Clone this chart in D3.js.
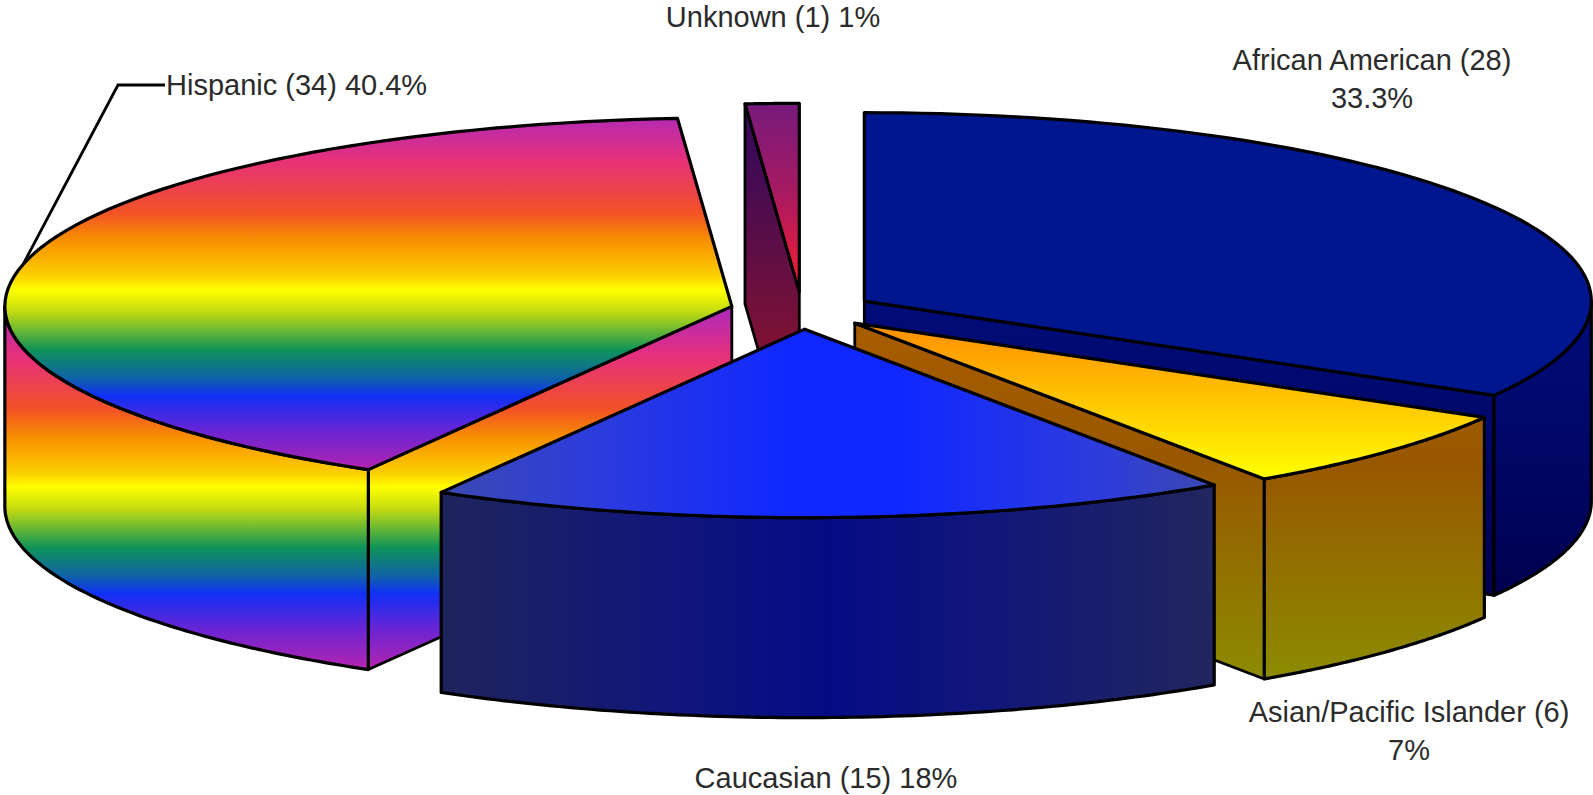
<!DOCTYPE html>
<html>
<head>
<meta charset="utf-8">
<title>Patients by ethnicity</title>
<script src="https://cdn.jsdelivr.net/npm/d3@7"></script>
<style>
  html, body { margin: 0; padding: 0; background: #fff; overflow: hidden; }
  text { font-family: "Liberation Sans", Arial, sans-serif; fill: #2b2b2b; }
</style>
</head>
<body>
<svg id="chart" width="1593" height="795"></svg>
<script>
// Clockwise from twelve o'clock
const categories = ["African American", "Asian/Pacific Islander", "Caucasian", "Hispanic", "Unknown"];
const counts = [28, 6, 15, 34, 1];
const percentLabels = ["33.3%", "7%", "18%", "40.4%", "1%"];

// Pie geometry
const width = 1593, height = 795;
const center = { x: 802, y: 310.5 };
const radiusX = 727, radiusY = 188.5;
const depth = 200;
const explode = 0.099;

const xScale = d3.scaleLinear().domain([-1, 1]).range([center.x - radiusX, center.x + radiusX]);
const yScale = d3.scaleLinear().domain([-1, 1]).range([center.y - radiusY, center.y + radiusY]);

const svg = d3.select("#chart");
const defs = svg.append("defs");

function gradient(id, axis, from, to, stops) {
  const g = defs.append("linearGradient")
    .attr("id", id)
    .attr("gradientUnits", "userSpaceOnUse")
    .attr("x1", axis === "x" ? from : 0).attr("x2", axis === "x" ? to : 0)
    .attr("y1", axis === "y" ? from : 0).attr("y2", axis === "y" ? to : 0);
  g.selectAll("stop").data(stops).join("stop")
    .attr("offset", d => d[0]).attr("stop-color", d => d[1]);
}

const rainbow = [
  [0, "#b42ab4"], [0.12, "#e6307c"], [0.27, "#f25226"], [0.35, "#f89000"],
  [0.45, "#fcd000"], [0.49, "#ffff00"], [0.55, "#c4dc10"], [0.66, "#0f9358"],
  [0.74, "#0f62a8"], [0.79, "#1030f4"], [0.89, "#6a24d4"], [1, "#b424b0"]
];
const caucasianTop = [[0, "#3c4ab0"], [0.2, "#2c3cdc"], [0.45, "#1028ff"], [0.6, "#1028ff"], [0.85, "#2c3cdc"], [1, "#3c48b0"]];
const caucasianWall = [[0, "#20245c"], [0.3, "#10167a"], [0.5, "#040c84"], [0.7, "#10167a"], [1, "#22265e"]];

gradient("hisp-top", "y", 117, 470, rainbow);
gradient("hisp-wall", "y", 314, 668, rainbow);
gradient("cauc-top", "x", 439, 1213, caucasianTop);
gradient("cauc-wall", "x", 439, 1213, caucasianWall);
gradient("asian-top", "y", 322, 478, [[0, "#ff8c00"], [1, "#ffff00"]]);
gradient("asian-wall", "y", 325, 680, [[0, "#a85c00"], [0.4, "#985800"], [1, "#8c8c00"]]);
gradient("afr-wall", "y", 300, 600, [[0, "#000c78"], [0.4, "#00086a"], [1, "#00004e"]]);
gradient("unk-top", "y", 103, 285, [[0, "#761a7c"], [0.5, "#a81a60"], [1, "#f41c34"]]);
gradient("unk-wall", "y", 150, 345, [[0, "#3c0a58"], [1, "#7e1234"]]);

const sliceStyles = {
  "African American": { top: "#00168f", wall: "url(#afr-wall)" },
  "Asian/Pacific Islander": { top: "url(#asian-top)", wall: "url(#asian-wall)" },
  "Caucasian": { top: "url(#cauc-top)", wall: "url(#cauc-wall)" },
  "Hispanic": { top: "url(#hisp-top)", wall: "url(#hisp-wall)" },
  "Unknown": { top: "url(#unk-top)", wall: "url(#unk-wall)" }
};

const arcs = d3.pie().sort(null).startAngle(0).endAngle(2 * Math.PI)(counts)
  .map((a, i) => ({ ...a, name: categories[i], label: percentLabels[i] }));

// A point on the top face: r is the fraction of the radius, theta runs clockwise from the top
function rim(a, r, theta) {
  const mid = (a.startAngle + a.endAngle) / 2;
  return [
    xScale(explode * Math.sin(mid) + r * Math.sin(theta)),
    yScale(-explode * Math.cos(mid) - r * Math.cos(theta))
  ];
}
const sweep = (a0, a1) => d3.range(0, 81).map(i => a0 + (a1 - a0) * i / 80);
const drop = p => [p[0], p[1] + depth];
const line = d3.line();

// Draw from the back of the pie to the front
const paintOrder = ["Unknown", "African American", "Hispanic", "Asian/Pacific Islander", "Caucasian"];
const layer = svg.append("g")
  .attr("stroke", "#000").attr("stroke-width", 3.2).attr("stroke-linejoin", "round");

paintOrder.forEach(name => {
  const a = arcs.find(d => d.name === name);
  const style = sliceStyles[name];
  const g = layer.append("g");
  const tip = rim(a, 0, 0);

  const radialWall = theta => {
    const edge = rim(a, 1, theta);
    g.append("path").attr("fill", style.wall).attr("stroke-width", 2.8)
      .attr("d", line([tip, edge, drop(edge), drop(tip)]) + "Z");
  };
  if (a.endAngle < Math.PI) radialWall(a.endAngle);
  if (a.startAngle > Math.PI) radialWall(a.startAngle);

  // Outer wall: only the part of the rim that faces the viewer
  const from = Math.max(a.startAngle, Math.PI / 2), to = Math.min(a.endAngle, 3 * Math.PI / 2);
  if (to > from) {
    const upper = sweep(from, to).map(t => rim(a, 1, t));
    g.append("path").attr("fill", style.wall)
      .attr("d", line(upper.concat(upper.map(drop).reverse())) + "Z");
  }

  const outline = [tip].concat(sweep(a.startAngle, a.endAngle).map(t => rim(a, 1, t)));
  g.append("path").attr("fill", style.top).attr("d", line(outline) + "Z");
});

// Labels
const labelSize = 29;
const labels = svg.append("g").attr("font-size", labelSize);
const byName = n => arcs.find(d => d.name === n);
const caption = n => `${n} (${byName(n).value})`;

labels.append("text").attr("x", 773).attr("y", 27).attr("text-anchor", "middle")
  .text(`${caption("Unknown")} ${byName("Unknown").label}`);
labels.append("text").attr("x", 1372).attr("y", 70).attr("text-anchor", "middle")
  .text(caption("African American"));
labels.append("text").attr("x", 1372).attr("y", 108).attr("text-anchor", "middle")
  .text(byName("African American").label);
labels.append("text").attr("x", 166).attr("y", 95)
  .text(`${caption("Hispanic")} ${byName("Hispanic").label}`);
labels.append("text").attr("x", 1409).attr("y", 722).attr("text-anchor", "middle")
  .text(caption("Asian/Pacific Islander"));
labels.append("text").attr("x", 1409).attr("y", 760).attr("text-anchor", "middle")
  .text(byName("Asian/Pacific Islander").label);
labels.append("text").attr("x", 826).attr("y", 788).attr("text-anchor", "middle")
  .text(`${caption("Caucasian")} ${byName("Caucasian").label}`);

// Leader from the Hispanic label to the middle of its rim
const hisp = byName("Hispanic");
svg.append("path").attr("fill", "none").attr("stroke", "#000").attr("stroke-width", 2.8)
  .attr("d", line([[165, 85], [118, 85], rim(hisp, 1, (hisp.startAngle + hisp.endAngle) / 2)]));
</script>
</body>
</html>
